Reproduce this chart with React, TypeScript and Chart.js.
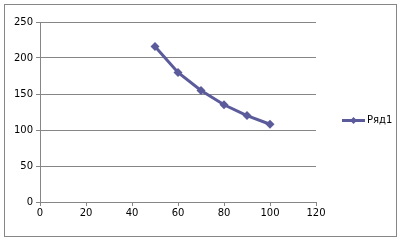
import React, { useEffect, useRef } from "react";
import { Chart, registerables } from "chart.js";

Chart.register(...registerables);

const seriesName = "Ряд1";
const xValues = [50, 60, 70, 80, 90, 100];
const yValues = [216, 180, 155, 135, 120, 108];
const xTicks = [0, 20, 40, 60, 80, 100, 120];
const yTicks = [0, 50, 100, 150, 200, 250];

const LINE_COLOR = "#5B5B9B";
const GRID_COLOR = "#868686";
const FONT = "'DejaVu Sans', Verdana, sans-serif";

const framePlugin = {
  id: "frame",
  beforeDraw(chart: any) {
    const ctx = chart.ctx;
    ctx.save();
    ctx.fillStyle = "#ffffff";
    ctx.fillRect(0, 0, chart.width, chart.height);
    ctx.strokeStyle = "#868686";
    ctx.lineWidth = 1;
    ctx.strokeRect(4.5, 4.5, 392, 232);
    ctx.restore();
  },
};

const legendPlugin = {
  id: "customLegend",
  afterDraw(chart: any) {
    const ctx = chart.ctx;
    const ds = chart.data.datasets[0];
    const y = 120.5;
    ctx.save();
    ctx.strokeStyle = ds.borderColor;
    ctx.lineWidth = 3;
    ctx.beginPath();
    ctx.moveTo(342, y);
    ctx.lineTo(365, y);
    ctx.stroke();
    ctx.fillStyle = ds.borderColor;
    ctx.beginPath();
    const cx = 353.5, r = 3.5;
    ctx.moveTo(cx, y - r);
    ctx.lineTo(cx + r, y);
    ctx.lineTo(cx, y + r);
    ctx.lineTo(cx - r, y);
    ctx.closePath();
    ctx.fill();
    ctx.fillStyle = "#000000";
    ctx.font = `10px ${FONT}`;
    ctx.textBaseline = "middle";
    ctx.textAlign = "left";
    ctx.fillText(ds.label, 367, y);
    ctx.restore();
  },
};

export default function App() {
  const ref = useRef<HTMLCanvasElement | null>(null);
  useEffect(() => {
    if (!ref.current) return;
    const chart = new Chart(ref.current, {
      type: "line",
      data: {
        datasets: [
          {
            label: seriesName,
            data: xValues.map((x, i) => ({ x, y: yValues[i] })),
            borderColor: LINE_COLOR,
            backgroundColor: LINE_COLOR,
            borderWidth: 3,
            pointStyle: "rectRot",
            pointRadius: 4.5,
            pointBackgroundColor: LINE_COLOR,
            pointBorderColor: LINE_COLOR,
            pointBorderWidth: 0,
            tension: 0,
          },
        ],
      },
      options: {
        animation: false,
        responsive: false,
        devicePixelRatio: 1,
        layout: { padding: { left: 4, top: 22, right: 85, bottom: 5 } },
        plugins: { legend: { display: false }, tooltip: { enabled: false } },
        scales: {
          x: {
            type: "linear",
            min: 0,
            max: 120,
            afterBuildTicks: (scale: any) => {
              scale.ticks = xTicks.map((v) => ({ value: v }));
            },
            afterFit: (scale: any) => {
              scale.height = 34;
            },
            grid: {
              drawOnChartArea: false,
              drawTicks: true,
              tickLength: 4,
              color: GRID_COLOR,
            },
            border: { display: true, color: GRID_COLOR },
            ticks: {
              color: "#000000",
              font: { family: FONT, size: 10 },
              padding: 1,
              maxRotation: 0,
            },
          },
          y: {
            type: "linear",
            min: 0,
            max: 250,
            afterBuildTicks: (scale: any) => {
              scale.ticks = yTicks.map((v) => ({ value: v }));
            },
            afterFit: (scale: any) => {
              scale.width = 36;
            },
            grid: {
              drawOnChartArea: true,
              drawTicks: true,
              tickLength: 4,
              color: GRID_COLOR,
            },
            border: { display: true, color: GRID_COLOR },
            ticks: {
              color: "#000000",
              font: { family: FONT, size: 10 },
              padding: 3,
            },
          },
        },
      },
      plugins: [framePlugin, legendPlugin],
    });
    return () => chart.destroy();
  }, []);
  return (
    <div style={{ position: "fixed", left: 0, top: 0, width: 401, height: 241 }}>
      <canvas ref={ref} width={401} height={241} style={{ width: 401, height: 241 }} />
    </div>
  );
}
